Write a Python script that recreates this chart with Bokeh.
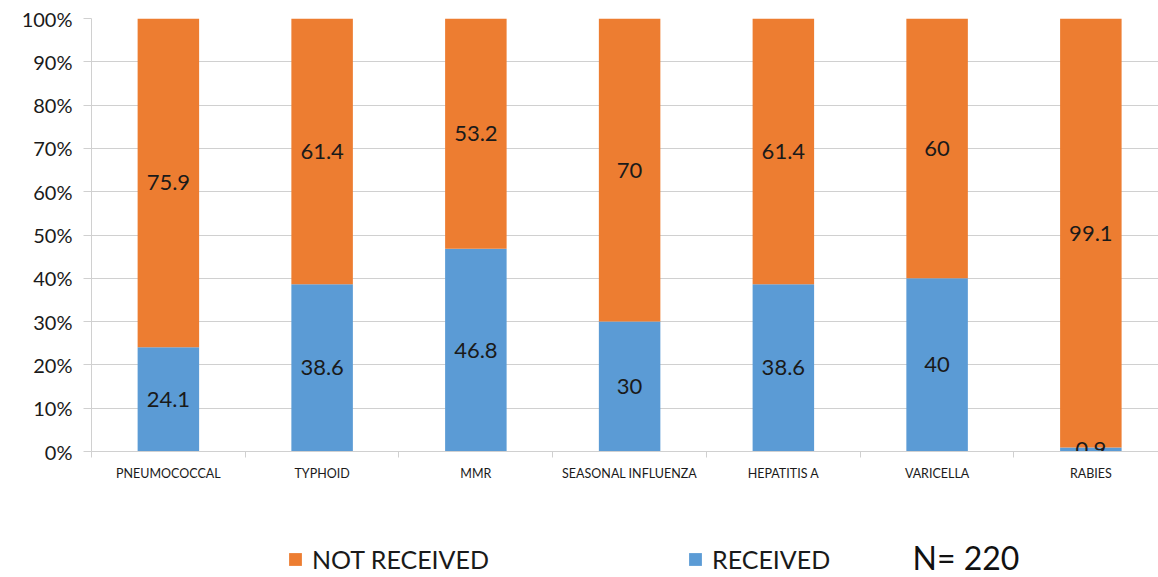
from bokeh.plotting import figure
from bokeh.layouts import column
from bokeh.models import (ColumnDataSource, Range1d, FixedTicker, Legend, LegendItem, Label)
from bokeh.embed import file_html
from bokeh.resources import INLINE

# Vaccination status by vaccine (percent of respondents)
vaccines = ["PNEUMOCOCCAL", "TYPHOID", "MMR", "SEASONAL INFLUENZA",
            "HEPATITIS A", "VARICELLA", "RABIES"]
received = [24.1, 38.6, 46.8, 30, 38.6, 40, 0.9]
not_received = [75.9, 61.4, 53.2, 70, 61.4, 60, 99.1]
y_ticks = [0, 10, 20, 30, 40, 50, 60, 70, 80, 90, 100]
sample_note = "N= 220"

BLUE = "#5B9BD5"
ORANGE = "#ED7D31"
FONT = "Lato"
TEXT = "#1a1a1a"
GRID = "#d0d0d0"

xs = list(range(len(vaccines)))
src = ColumnDataSource(dict(
    x=xs,
    rec=received,
    notrec=not_received,
    top=[r + n for r, n in zip(received, not_received)],
    rec_mid=[r / 2 for r in received],
    notrec_mid=[r + n / 2 for r, n in zip(received, not_received)],
    rec_lbl=[f"{v:g}" for v in received],
    notrec_lbl=[f"{v:g}" for v in not_received],
))

p = figure(width=1158, height=502, output_backend="svg", toolbar_location=None,
           x_range=Range1d(-0.5, 6.44), y_range=Range1d(0, 100),
           min_border_left=91, min_border_top=18, min_border_bottom=51,
           min_border_right=0)
p.outline_line_color = None

p.vbar(x="x", bottom=0, top="rec", width=0.4, source=src,
       fill_color=BLUE, line_color=None)
p.vbar(x="x", bottom="rec", top="top", width=0.4, source=src,
       fill_color=ORANGE, line_color=None)

for ycol, tcol in (("rec_mid", "rec_lbl"), ("notrec_mid", "notrec_lbl")):
    p.text(x="x", y=ycol, text=tcol, source=src, text_align="center",
           text_baseline="middle", text_font_size="22px", text_color=TEXT,
           text_font={"value": FONT})

# y axis: percent scale
p.yaxis.ticker = FixedTicker(ticks=y_ticks)
p.yaxis.major_label_overrides = {t: f"{t}%" for t in y_ticks}
p.yaxis.major_label_text_font = FONT
p.yaxis.major_label_text_font_size = "20px"
p.yaxis.major_label_text_color = TEXT
p.yaxis.axis_line_color = GRID
p.yaxis.major_tick_line_color = GRID
p.yaxis.major_tick_out = 8
p.yaxis.major_tick_in = 0
p.yaxis.minor_tick_line_color = None
p.yaxis.major_label_standoff = 11

# x axis: category names, small ticks between categories
p.xaxis.ticker = FixedTicker(ticks=xs, minor_ticks=[i - 0.5 for i in range(len(vaccines) + 1)])
p.xaxis.major_label_overrides = {i: v for i, v in enumerate(vaccines)}
p.xaxis.major_label_text_font = FONT
p.xaxis.major_label_text_font_size = "12.5px"
p.xaxis.major_label_text_color = TEXT
p.xaxis.axis_line_color = GRID
p.xaxis.major_tick_line_color = None
p.xaxis.minor_tick_line_color = GRID
p.xaxis.minor_tick_out = 6
p.xaxis.minor_tick_in = 0
p.xaxis.major_label_standoff = 8

p.xgrid.grid_line_color = None
p.ygrid.grid_line_color = GRID
p.ygrid.grid_line_width = 1

# footer strip: legend and sample size (its frame lines up with the chart's frame)
f = figure(width=1158, height=75, output_backend="svg", toolbar_location=None,
           x_range=Range1d(0, 1), y_range=Range1d(0, 1),
           min_border=0, min_border_left=91, min_border_right=0,
           min_border_top=0, min_border_bottom=0)
f.outline_line_color = None
f.axis.visible = False
f.grid.visible = False
# zero-size quads that only carry the swatch colours for the legend
sw_not = f.quad(left=[0], right=[0], bottom=[0], top=[0], fill_color=ORANGE, line_color=None)
sw_rec = f.quad(left=[0], right=[0], bottom=[0], top=[0], fill_color=BLUE, line_color=None)

leg = Legend(items=[LegendItem(label="NOT RECEIVED", renderers=[sw_not]),
                    LegendItem(label="RECEIVED", renderers=[sw_rec])],
             location=(196, 3), orientation="horizontal")
leg.padding = 0
leg.margin = 0
leg.spacing = 0
leg.border_line_color = None
leg.background_fill_alpha = 0
leg.glyph_width = 16
leg.glyph_height = 16
leg.label_standoff = 9
leg.label_width = 375
leg.label_text_font = FONT
leg.label_text_font_size = "25px"
leg.label_text_color = TEXT
leg.label_height = 26
f.add_layout(leg, "center")

f.add_layout(Label(x=821, y=20, x_units="screen", y_units="screen",
                   text=sample_note, text_font=FONT, text_font_size="32px",
                   text_color="#111111", text_baseline="middle"))

open("out.html", "w").write(file_html(column(p, f, spacing=0), INLINE))
